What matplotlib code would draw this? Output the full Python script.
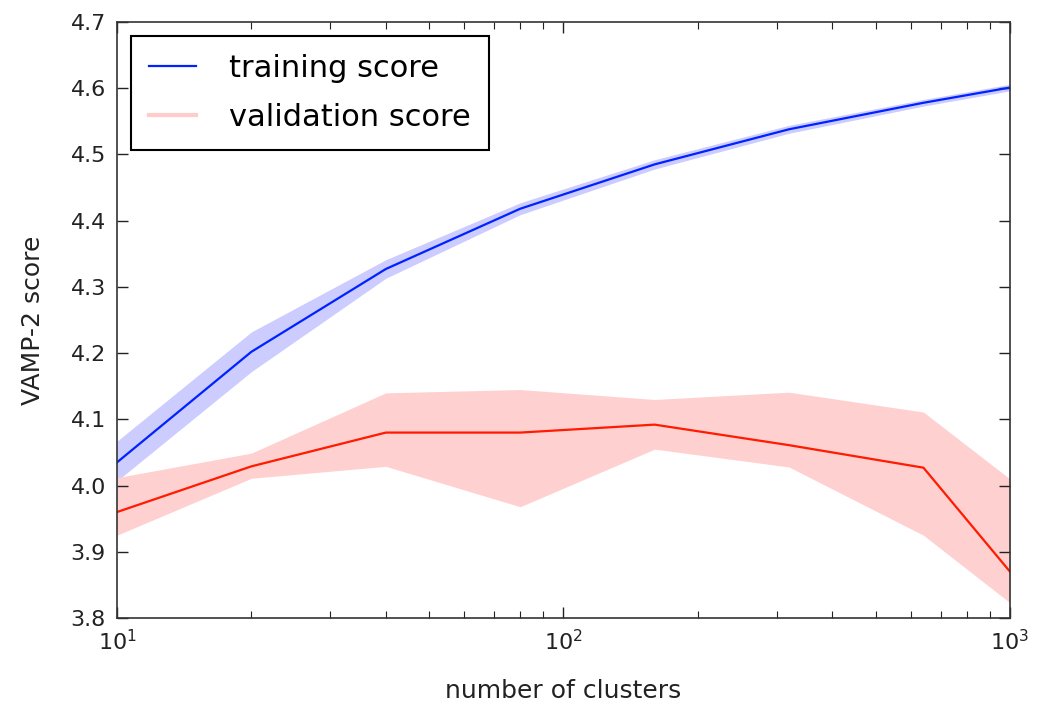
import matplotlib
matplotlib.use("Agg")
import matplotlib.pyplot as plt
from matplotlib.lines import Line2D
import numpy as np

n_clusters = [10, 20, 40, 80, 160, 320, 640, 1000]
train_mean = [4.035, 4.202, 4.327, 4.418, 4.485, 4.538, 4.578, 4.601]
train_lower = [4.007, 4.172, 4.313, 4.409, 4.478, 4.532, 4.573, 4.596]
train_upper = [4.067, 4.232, 4.341, 4.427, 4.492, 4.544, 4.583, 4.606]
valid_mean = [3.960, 4.029, 4.080, 4.080, 4.092, 4.061, 4.027, 3.870]
valid_lower = [3.925, 4.011, 4.029, 3.968, 4.055, 4.028, 3.925, 3.823]
valid_upper = [4.012, 4.049, 4.140, 4.145, 4.130, 4.141, 4.111, 4.010]

labels = ["training score", "validation score"]

fig = plt.figure(figsize=(10.38, 7.05), dpi=100)
ax = fig.add_axes([0.1127, 0.1234, 0.8603, 0.8454])

ax.fill_between(n_clusters, train_lower, train_upper, color="#ccccff", lw=0)
ax.fill_between(n_clusters, valid_lower, valid_upper, color="#ffd0d0", lw=0)
ax.plot(n_clusters, train_mean, color="#0022ff", lw=1.6)
ax.plot(n_clusters, valid_mean, color="#ff1a00", lw=1.6)

ax.set_xscale("log")
ax.set_xlim(10, 1000)
ax.set_ylim(3.8, 4.7)
ax.set_yticks(np.arange(3.8, 4.71, 0.1))
ax.set_yticklabels([f"{v:.1f}" for v in np.arange(3.8, 4.71, 0.1)])

ax.tick_params(which="both", direction="in", top=True, right=True,
               labelsize=16, colors="#222222")
ax.tick_params(which="major", length=8, width=1, pad=8)
ax.tick_params(which="minor", length=5, width=0.8)
for s in ax.spines.values():
    s.set_color("#333333")
    s.set_linewidth(1.2)

ax.set_xlabel("number of clusters", fontsize=18, color="#222222", labelpad=18)
ax.set_ylabel("VAMP-2 score", fontsize=18, color="#222222", labelpad=18)

handles = [Line2D([], [], color="#0022ff", lw=1.6),
           Line2D([], [], color="#ffcccc", lw=3)]
leg = ax.legend(handles, labels, loc="upper left", fontsize=22,
                fancybox=False, framealpha=1, edgecolor="black",
                borderpad=0.6, labelspacing=0.65, handlelength=1.55,
                handletextpad=1.05, borderaxespad=0.45)
leg.get_frame().set_linewidth(1.5)

fig.savefig("out.png", dpi=100, facecolor="white")
